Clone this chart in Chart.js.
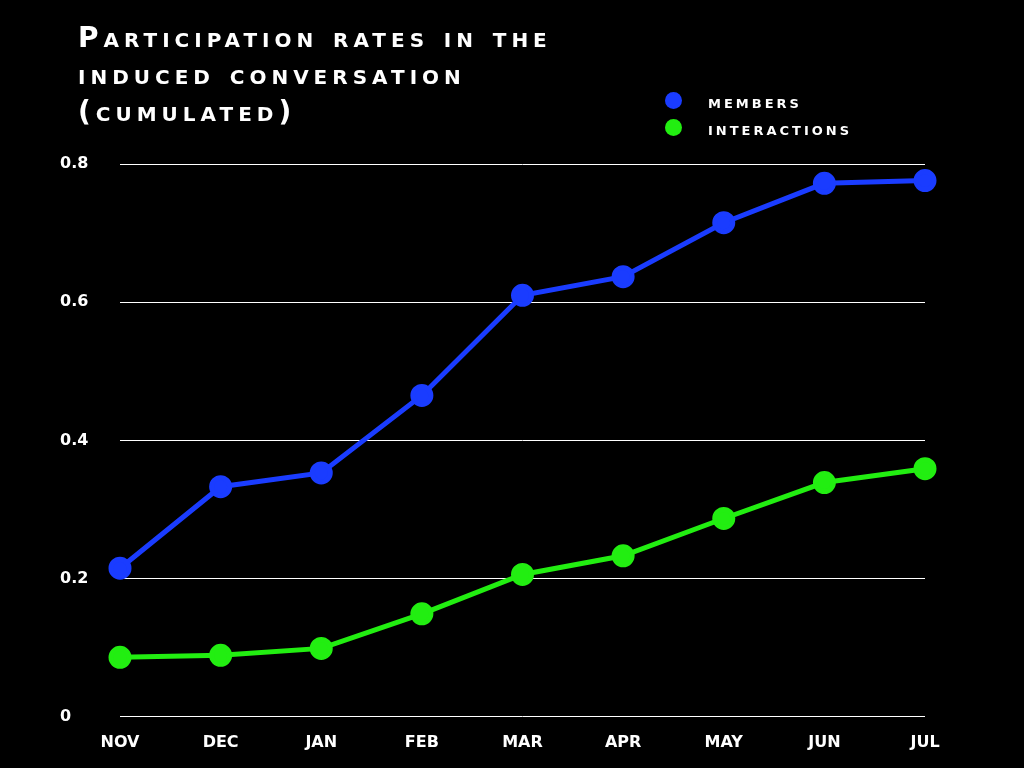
<!DOCTYPE html>
<html><head><meta charset="utf-8">
<script src="https://cdn.jsdelivr.net/npm/chart.js@4"></script>
<style>
html,body{margin:0;background:#000;width:1024px;height:768px;overflow:hidden;font-family:"DejaVu Sans";}
#wrap{position:absolute;left:0;top:0;width:1024px;height:768px;}
#title{position:absolute;left:78px;top:19px;color:#fff;font:bold 28px "DejaVu Sans";font-variant:small-caps;letter-spacing:5px;line-height:37px;}
#legend{position:absolute;left:665px;top:87px;color:#fff;font:bold 19px "DejaVu Sans";font-variant:small-caps;letter-spacing:3px;}
#legend div{height:27px;display:flex;align-items:center;}
#legend span.d{display:inline-block;width:17px;height:17px;border-radius:50%;margin-right:26px;}
</style></head><body>
<div id="wrap"><canvas id="c" width="1024" height="768"></canvas></div>
<div id="title">Participation rates in the<br>induced conversation<br>(cumulated)</div>
<div id="legend"></div>
<script>
const categories=["Nov","Dec","Jan","Feb","Mar","Apr","May","Jun","Jul"];
const members=[0.215,0.333,0.353,0.465,0.61,0.637,0.715,0.772,0.776];
const interactions=[0.086,0.089,0.099,0.149,0.206,0.233,0.287,0.339,0.359];
const yTicks=[0,0.2,0.4,0.6,0.8];
const seriesNames=["members","interactions"];
const colors=["#1a3cff","#22ee11"];
const lg=document.getElementById('legend');
seriesNames.forEach((n,i)=>{const d=document.createElement('div');d.innerHTML='<span class="d" style="background:'+colors[i]+'"></span>'+n;lg.appendChild(d);});
const tickFont={family:"DejaVu Sans",size:16,weight:"bold"};
new Chart(document.getElementById('c'),{type:'line',
data:{labels:categories,datasets:[members,interactions].map((d,i)=>({label:seriesNames[i],data:d,borderColor:colors[i],backgroundColor:colors[i],borderWidth:5,pointRadius:9,pointHoverRadius:9,tension:0}))},
options:{responsive:false,animation:false,
layout:{padding:{left:60,right:99,top:164,bottom:8}},
plugins:{legend:{display:false},tooltip:{enabled:false}},
scales:{
x:{offset:false,grid:{display:false},border:{display:false},ticks:{color:"#fff",font:tickFont,padding:8,callback:function(v){return this.getLabelForValue(v).toUpperCase();}}},
y:{min:0,max:0.8,afterBuildTicks:a=>{a.ticks=yTicks.map(v=>({value:v}));},afterFit:a=>{a.width=60;},
grid:{color:"#fff",lineWidth:1,drawTicks:false},border:{display:false},
ticks:{color:"#fff",font:tickFont,crossAlign:"far",padding:20,callback:v=>v===0?"0":v.toFixed(1)}}}}});
</script></body></html>
